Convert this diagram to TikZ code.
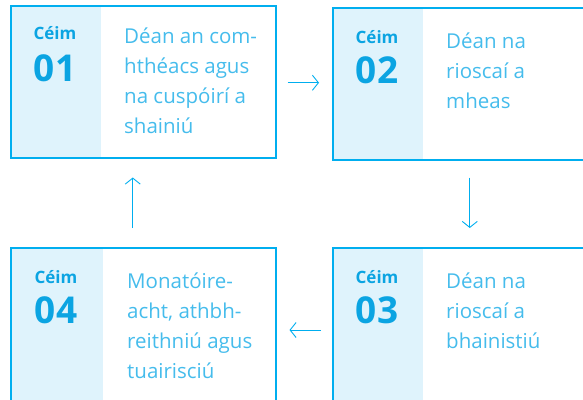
\documentclass[tikz,border=0pt]{standalone}
\usepackage{fontspec}
\setmainfont{Open Sans}
\usetikzlibrary{arrows.meta}
\definecolor{bord}{HTML}{00AEEF}
\definecolor{panel}{HTML}{DFF3FC}
\definecolor{txt}{HTML}{45BCEC}
\definecolor{num}{HTML}{0BA4E2}
\tikzset{
  box/.style={draw=bord, line width=1.5pt, anchor=north west, inner sep=0, minimum width=#1},
  pan/.style={fill=panel, draw=none, anchor=north west, inner sep=0, minimum width=91pt},
  lbl/.style={font=\fontsize{17}{17}\selectfont\bfseries, text=num, anchor=base, inner sep=0},
  numb/.style={font=\fontsize{37}{37}\selectfont\bfseries, text=num, anchor=base, inner sep=0},
  body/.style={font=\fontsize{20.5}{30}\selectfont, text=txt, anchor=base west, align=left, inner sep=0},
  arr/.style={draw=bord, line width=0.9pt, -{Straight Barb[length=6pt,width=15pt]}}
}
\begin{document}
\begin{tikzpicture}[x=1pt,y=-1pt]
\useasboundingbox (0,0) rectangle (583,399);
% panels
\node[pan, minimum height=152pt] (p1) at (10,5) {};
\node[pan, minimum height=152pt] (p2) at (332,7) {};
\node[pan, minimum height=170pt] (p3) at (332,247) {};
\node[pan, minimum width=93pt, minimum height=170pt] (p4) at (10,247) {};
% boxes
\node[box=265pt, minimum height=152pt] (b1) at (10,5) {};
\node[box=274pt, minimum height=152pt] (b2) at (332,7) {};
\node[box=274pt, minimum height=170pt] (b3) at (332,247) {};
\node[box=265pt, minimum height=170pt] (b4) at (10,247) {};
% labels
\node[lbl] (c1) at (55,39) {Céim};
\node[numb] (n1) at (55,81) {01};
\node[lbl] (c2) at (377,43) {Céim};
\node[numb] (n2) at (377,83) {02};
\node[lbl] (c3) at (377,283) {Céim};
\node[numb] (n3) at (377,323) {03};
\node[lbl] (c4) at (56,283) {Céim};
\node[numb] (n4) at (56,323) {04};
% body texts (anchor at baseline of last line)
\node[body] (t1) at (124,133) {Déan an com-\\hthéacs agus\\na cuspóirí a\\shainiú};
\node[body] (t2) at (446,108) {Déan na\\rioscaí a\\mheas};
\node[body] (t3) at (446,348) {Déan na\\rioscaí a\\bhainistiú};
\node[body] (t4) at (127,378) {Monatóire-\\acht, athbh-\\reithniú agus\\tuairisciú};
% arrows
\draw[arr, shorten <=11pt, shorten >=13pt] ([yshift=-1pt]b1.east) -- ([yshift=-1pt]b1.east -| b2.west);
\draw[arr, shorten <=17pt, shorten >=19pt] (b2.south) -- (b3.north);
\draw[arr, shorten <=11pt, shorten >=13pt] ([yshift=-83pt]b3.north west) -- ([yshift=-83pt]b3.north west -| b4.east);
\draw[arr, shorten <=19pt, shorten >=19pt] ([xshift=-10.5pt]b4.north) -- ([xshift=-10.5pt]b4.north |- b1.south);
\end{tikzpicture}
\end{document}
